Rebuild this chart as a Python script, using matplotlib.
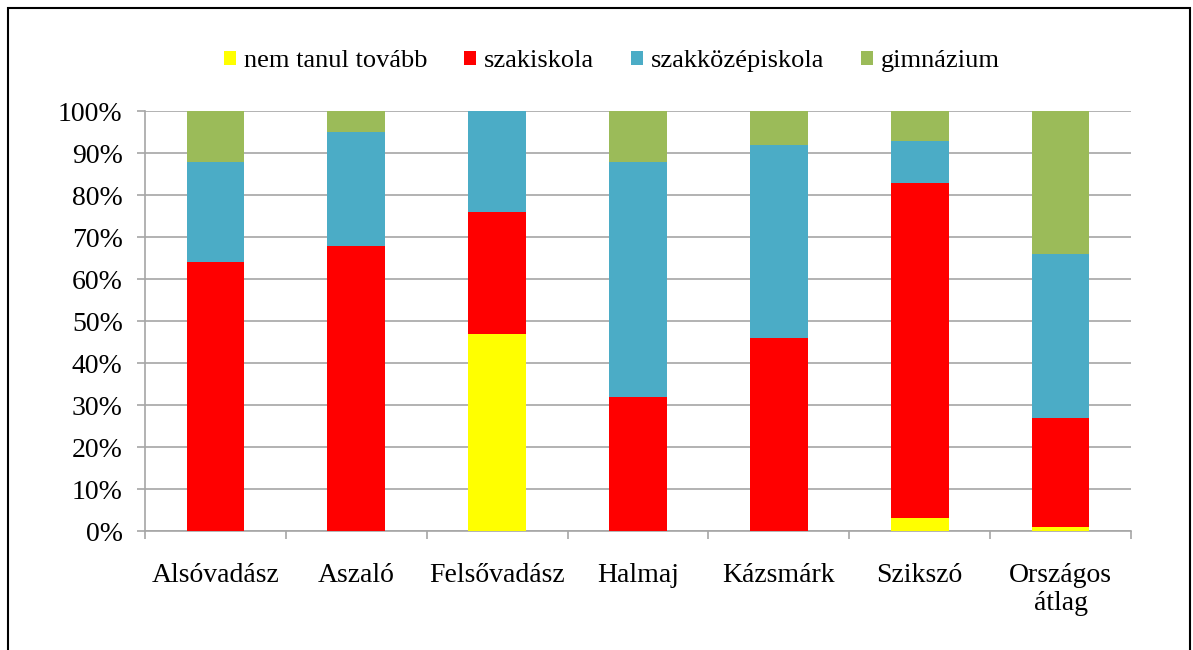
import matplotlib.pyplot as plt
from matplotlib.patches import Rectangle
from matplotlib.ticker import FuncFormatter, FixedLocator
import numpy as np

plt.rcParams['font.family'] = ['Liberation Serif', 'DejaVu Serif']

categories = ['Alsóvadász', 'Aszaló', 'Felsővadász', 'Halmaj', 'Kázsmárk', 'Szikszó', 'Országos\nátlag']
nem_tanul = [0, 0, 47, 0, 0, 3, 1]
szakiskola = [64, 68, 29, 32, 46, 80, 26]
szakkozep = [24, 27, 24, 56, 46, 10, 39]
gimnazium = [12, 5, 0, 12, 8, 7, 34]

series = [
    ('nem tanul tovább', nem_tanul, '#FFFF00'),
    ('szakiskola', szakiskola, '#FF0000'),
    ('szakközépiskola', szakkozep, '#4BACC6'),
    ('gimnázium', gimnazium, '#9BBB59'),
]

fig = plt.figure(figsize=(11.93, 6.5), dpi=100)
ax = fig.add_axes([0.1215, 0.183, 0.8265, 0.646])

x = np.arange(len(categories))
bottom = np.zeros(len(categories))
for name, vals, color in series:
    vals = np.array(vals, dtype=float)
    ax.bar(x, vals, bottom=bottom, width=0.41, color=color, label=name, zorder=3)
    bottom += vals

ax.set_xlim(-0.5, len(categories) - 0.5)
ax.set_ylim(0, 100)
ax.set_yticks(np.arange(0, 101, 10))
ax.yaxis.set_major_formatter(FuncFormatter(lambda v, p: f'{int(v)}%'))
ax.yaxis.grid(True, color='#a6a6a6', linewidth=1.2, zorder=0)

# category labels centred, tick marks between categories
ax.set_xticks(x)
ax.set_xticklabels(categories, fontsize=20, linespacing=1.15)
ax.tick_params(axis='x', length=0, pad=23)
ax.xaxis.set_minor_locator(FixedLocator(np.arange(-0.5, len(categories), 1)))
ax.tick_params(axis='x', which='minor', length=6, color='#a6a6a6', width=1.2)
ax.tick_params(axis='y', length=6, color='#a6a6a6', width=1.2, labelsize=20, pad=10)

for s in ['top', 'right']:
    ax.spines[s].set_visible(False)
for s in ['left', 'bottom']:
    ax.spines[s].set_color('#a6a6a6')
    ax.spines[s].set_linewidth(1.2)

fig.legend(loc='center', bbox_to_anchor=(0.513, 0.906), ncol=4, frameon=False,
           fontsize=19, handlelength=0.45, handleheight=0.45, handletextpad=0.3,
           columnspacing=1.4)

# outer chart border
fig.patches.append(Rectangle((8 / 1193, -0.05), 1182 / 1193, 1 - 8 / 650 + 0.05,
                             transform=fig.transFigure, fill=False,
                             edgecolor='black', linewidth=1.5))

fig.savefig('out.png', dpi=100)
